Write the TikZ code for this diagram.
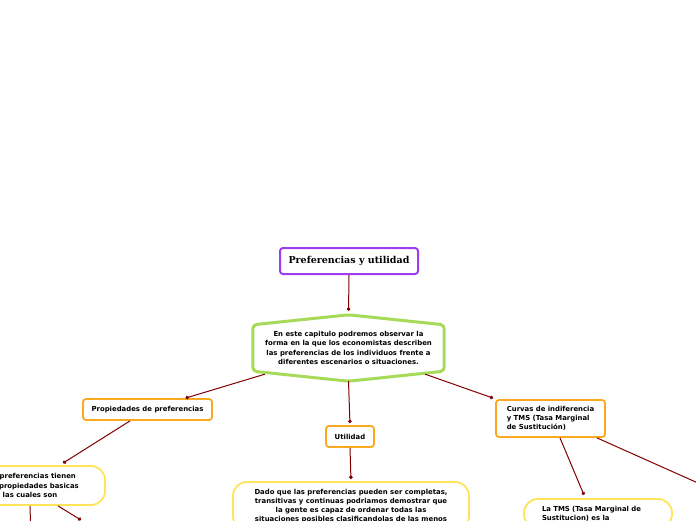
\documentclass[tikz,border=0pt]{standalone}
\usepackage{fontspec}
\usetikzlibrary{positioning, arrows.meta, calc}
\newfontfamily\mapfont{DejaVu Sans}
\newfontfamily\titlefont{DejaVu Serif}
\definecolor{linkred}{RGB}{128,0,0}
\definecolor{titlepurple}{RGB}{160,60,240}
\definecolor{introgreen}{RGB}{168,218,90}
\definecolor{suborange}{RGB}{250,168,30}
\definecolor{noteyellow}{RGB}{255,228,90}

\begin{document}
\begin{tikzpicture}[x=1pt, y=-1pt,
  mapfont/.style={font=\mapfont\bfseries\fontsize{6.9}{9.2}\selectfont},
  titlebox/.style={draw=titlepurple, line width=2pt, rounded corners=3pt, fill=white,
                   minimum width=138pt, minimum height=26pt,
                   font=\titlefont\bfseries\fontsize{9.5}{11}\selectfont},
  subbox/.style={mapfont, draw=suborange, line width=1.8pt, rounded corners=3pt, fill=white,
                 minimum height=21pt, align=center},
  notebox/.style={mapfont, draw=noteyellow, line width=1.8pt, rounded corners=14pt, fill=white},
  link/.style={-{Circle[length=3.5pt]}, linkred, line width=1pt}
]
  \useasboundingbox (0,0) rectangle (696,520);
  \clip (0,0) rectangle (696,520);

  % main topic
  \node[titlebox] (title) at (349,261) {Preferencias y utilidad};

  % central idea, hexagon drawn round an empty node
  \node[mapfont, minimum width=197pt, minimum height=66pt, align=center] (intro) at (348.5,348)
    {En este capitulo podremos observar la\\forma en la que los economistas describen\\
     las preferencias de los individuos frente a\\diferentes escenarios o situaciones.};
  \draw[introgreen, line width=3pt, rounded corners=4pt]
    ([xshift=3pt,yshift=-10pt]intro.north west) -- (intro.north)
    -- ([xshift=-3pt,yshift=-10pt]intro.north east)
    -- ([xshift=-3pt,yshift=10pt]intro.south east) -- (intro.south)
    -- ([xshift=3pt,yshift=10pt]intro.south west) -- cycle;

  % second level
  \node[subbox, minimum width=129pt] (props) at (147.5,409.5) {Propiedades de preferencias};
  \node[subbox, minimum width=48pt] (util) at (350,436.5) {Utilidad};
  \node[subbox, minimum width=109pt, minimum height=37pt, align=left] (curvas) at (550.5,418.5)
    {Curvas de indiferencia\\y TMS (Tasa Marginal\\de Sustitución)};

  % notes
  \node[notebox, minimum width=150pt, minimum height=39pt, align=center] (basicas) at (30,485.5)
    {Las preferencias tienen\\tres propiedades basicas\\las cuales son};
  \node[notebox, anchor=north, minimum width=236pt, inner ysep=7pt, align=center] (dado) at (351,481)
    {Dado que las preferencias pueden ser completas,\\transitivas y continuas podriamos demostrar que\\
     la gente es capaz de ordenar todas las\\situaciones posibles clasificandolas de las menos};
  \node[notebox, anchor=north, text width=112pt, inner xsep=18pt, inner ysep=7pt, align=left] (tms) at (598,498)
    {La TMS (Tasa Marginal de\\Sustitucion) es la};

  % ends outside the page
  \coordinate (offright) at (745,504);
  \coordinate (offleft) at (31,540);
  \coordinate (offmid) at (81,520);

  % connectors
  \draw[link, shorten >=4pt] (title.south) -- (intro.north);
  \draw[link] ([xshift=15pt,yshift=7pt]intro.south west) -- ([xshift=38pt]props.north);
  \draw[link, shorten >=2pt] (intro.south) -- (util.north);
  \draw[link] ([xshift=-22pt,yshift=7pt]intro.south east) -- ([xshift=-2pt,yshift=1pt]curvas.north west);
  \draw[link] ([xshift=-17.5pt]props.south) -- ([xshift=33pt,yshift=2pt]basicas.north);
  \draw[link, shorten >=2pt] (util.south) -- (dado.north);
  \draw[link] ([xshift=9.5pt]curvas.south) -- ([xshift=-14pt,yshift=3pt]tms.north);
  \draw[link] ([xshift=46.5pt]curvas.south) -- (offright);
  \draw[link] (basicas.south) -- (offleft);
  \draw[link] ([xshift=28pt]basicas.south) -- (offmid);
\end{tikzpicture}
\end{document}
